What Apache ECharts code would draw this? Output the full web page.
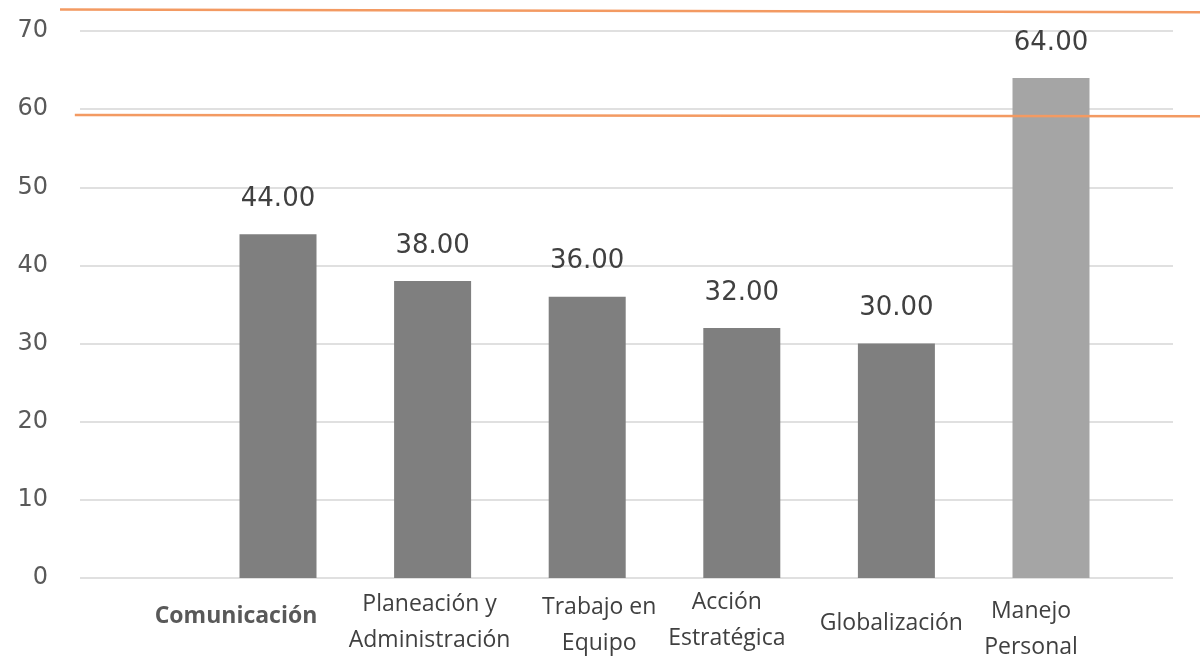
<!DOCTYPE html>
<html>
<head>
<meta charset="utf-8">
<script src="https://cdn.jsdelivr.net/npm/echarts@6/dist/echarts.min.js"></script>
<style>
  html, body { margin: 0; padding: 0; background: #fff; }
  #chart { width: 1204px; height: 661px; }
</style>
</head>
<body>
<div id="chart"></div>
<script>
  // datos
  const categories = ['Comunicación', 'Planeación y\nAdministración', 'Trabajo en\nEquipo', 'Acción\nEstratégica', 'Globalización', 'Manejo\nPersonal']
  const values = [44, 38, 36, 32, 30, 64]
  const yTicks = [0, 10, 20, 30, 40, 50, 60, 70]
  // líneas naranjas (valor en extremo izquierdo y derecho)
  const refLineTop = [72.75, 72.4]
  const refLineBottom = [59.25, 59.1]

  // desplazamientos de las etiquetas del eje x (dx, dy)
  const labelShift = [[-42, 14], [-3, 2], [12, 5], [-15, 0], [-5, 21], [-20, 9]]

  const catData = categories.map(function (c, i) {
    const dx = labelShift[i][0]
    const dy = labelShift[i][1]
    return {
      value: c,
      textStyle: {
        padding: [dy, dx < 0 ? -2 * dx : 0, 0, dx > 0 ? 2 * dx : 0],
        fontWeight: i === 0 ? 'bold' : 'normal',
        color: i === 0 ? '#595959' : '#404040'
      }
    }
  })

  const chart = echarts.init(document.getElementById('chart'))

  chart.setOption({
    animation: false,
    grid: [
      { left: 200.7, right: 75.7, top: 31, bottom: 83, outerBoundsMode: 'none' },
      { left: 80, right: 31, top: 31, bottom: 83, outerBoundsMode: 'none' },
      { left: 60, right: 4, top: 31, bottom: 83, outerBoundsMode: 'none' }
    ],
    xAxis: [
      {
        type: 'category',
        gridIndex: 0,
        data: catData,
        axisLine: { show: false },
        axisTick: { show: false },
        axisLabel: {
          interval: 0,
          margin: 6,
          fontFamily: 'Open Sans',
          fontSize: 23,
          lineHeight: 36,
          verticalAlign: 'top',
          hideOverlap: false
        }
      },
      { type: 'value', gridIndex: 1, show: false, min: 0, max: 1, splitLine: { show: false } },
      { type: 'value', gridIndex: 2, show: false, min: 0, max: 1, splitLine: { show: false } }
    ],
    yAxis: [
      { type: 'value', gridIndex: 0, min: 0, max: 70, interval: 10, show: false },
      {
        type: 'value',
        gridIndex: 1,
        min: yTicks[0],
        max: yTicks[yTicks.length - 1],
        interval: 10,
        axisLine: { show: false },
        axisTick: { show: false },
        axisLabel: {
          margin: 32,
          fontFamily: 'DejaVu Sans',
          fontSize: 24,
          color: '#595959'
        },
        splitLine: { lineStyle: { color: '#e0e0e0', width: 2 } }
      },
      { type: 'value', gridIndex: 2, min: 0, max: 70, show: false }
    ],
    series: [
      {
        type: 'bar',
        xAxisIndex: 0,
        yAxisIndex: 0,
        barWidth: 77,
        data: values.map(function (v, i) {
          return { value: v, itemStyle: { color: i === values.length - 1 ? '#a5a5a5' : '#7f7f7f' } }
        }),
        label: {
          show: true,
          position: 'top',
          distance: 22,
          formatter: function (p) { return p.value.toFixed(2) },
          fontFamily: 'DejaVu Sans',
          fontSize: 26,
          color: '#404040'
        }
      },
      {
        type: 'line',
        xAxisIndex: 2,
        yAxisIndex: 2,
        clip: false,
        symbol: 'none',
        z: 5,
        lineStyle: { color: '#f39a62', width: 2.5 },
        data: [[0, refLineTop[0]], [1, refLineTop[1]]]
      },
      {
        type: 'line',
        xAxisIndex: 2,
        yAxisIndex: 2,
        clip: false,
        symbol: 'none',
        z: 5,
        lineStyle: { color: '#f39a62', width: 2.5 },
        data: [[0.013, refLineBottom[0]], [1, refLineBottom[1]]]
      }
    ]
  })
</script>
</body>
</html>
